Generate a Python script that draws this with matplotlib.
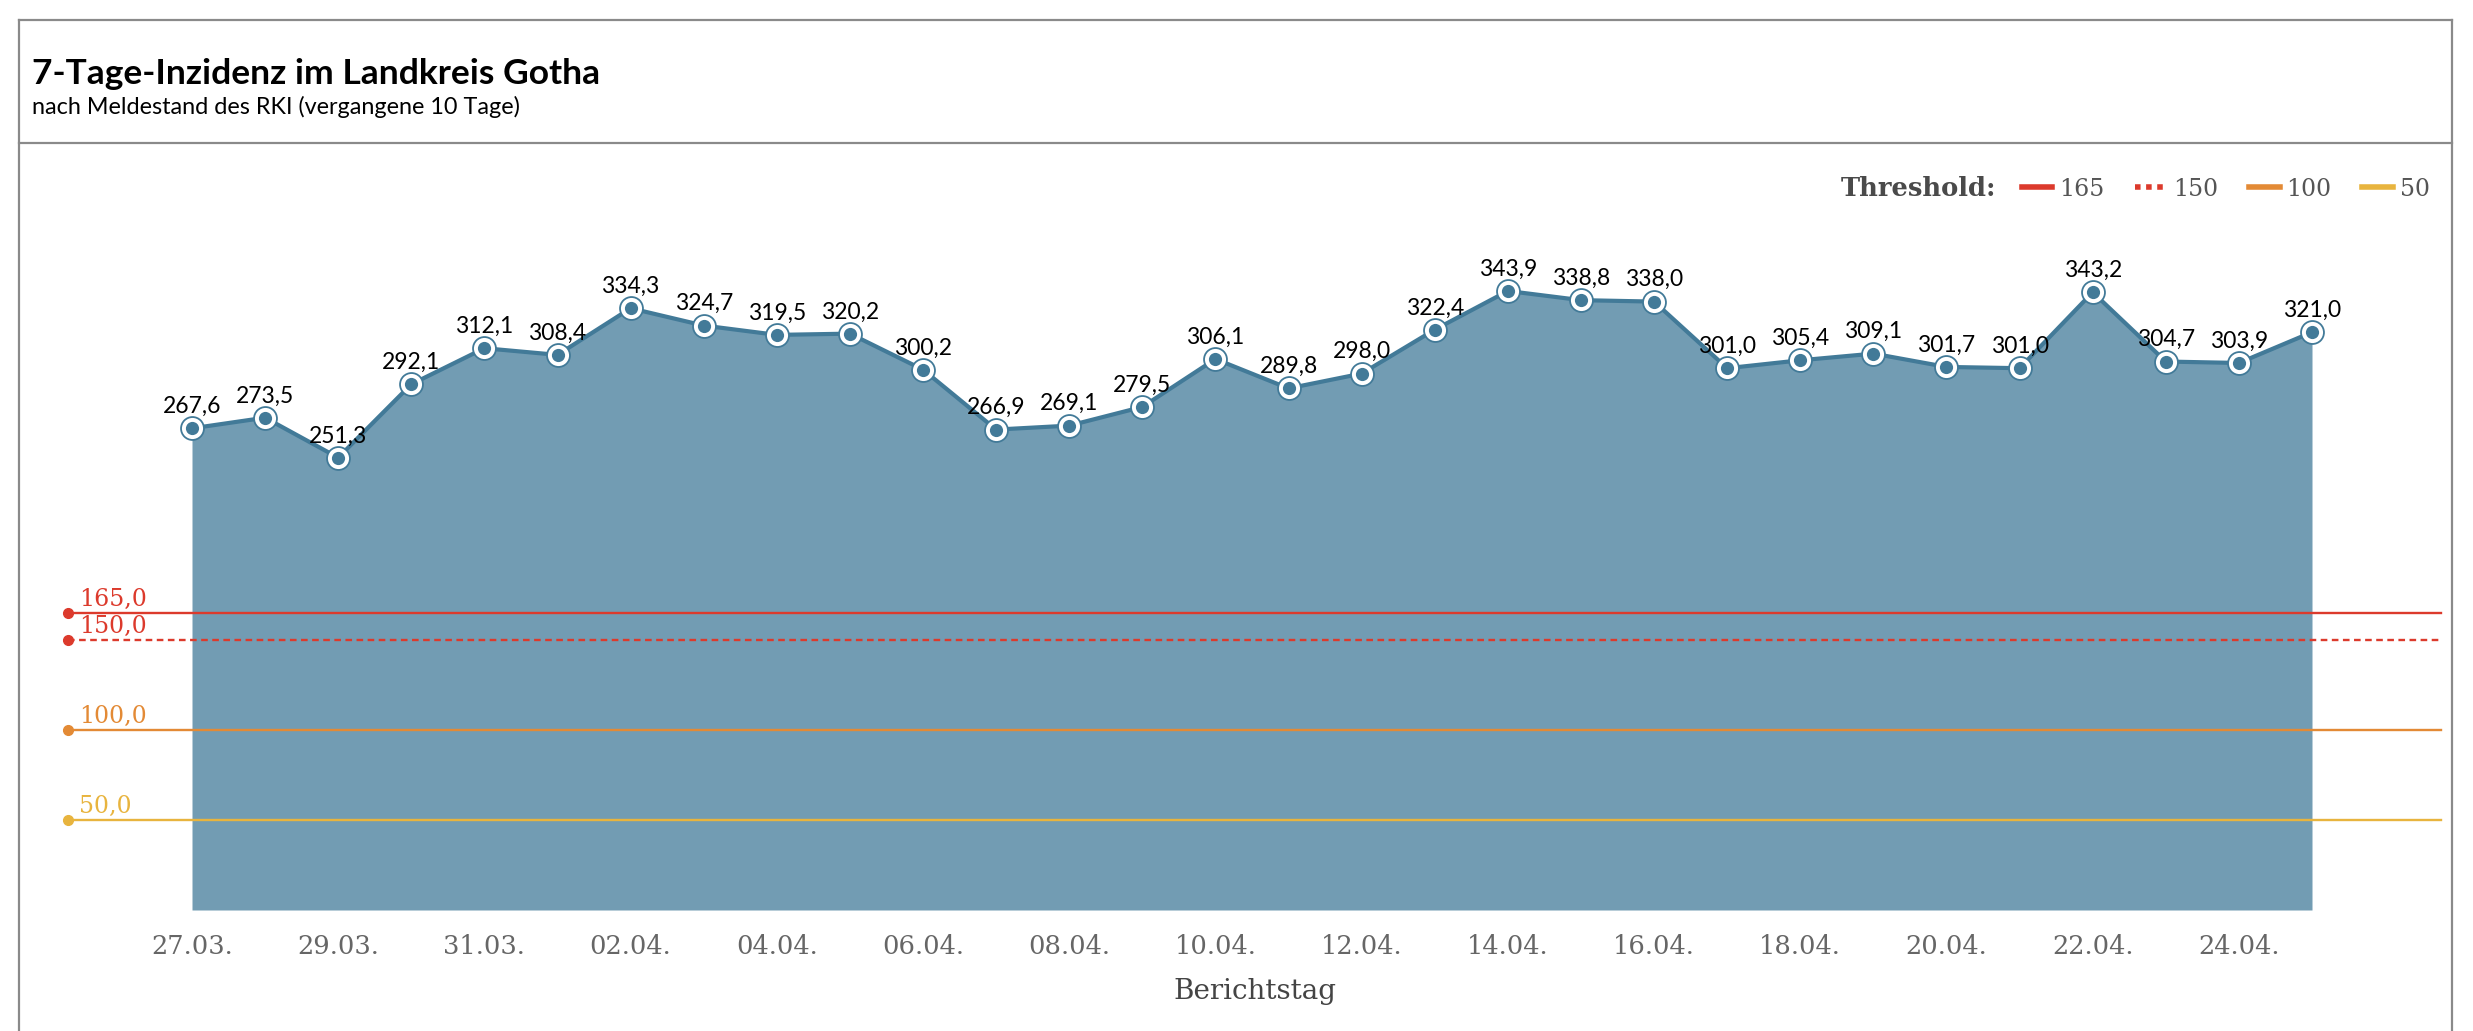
import matplotlib.pyplot as plt
from matplotlib.lines import Line2D

# 7-Tage-Inzidenz, Landkreis Gotha
dates = ["27.03.", "28.03.", "29.03.", "30.03.", "31.03.", "01.04.", "02.04.", "03.04.",
         "04.04.", "05.04.", "06.04.", "07.04.", "08.04.", "09.04.", "10.04.", "11.04.",
         "12.04.", "13.04.", "14.04.", "15.04.", "16.04.", "17.04.", "18.04.", "19.04.",
         "20.04.", "21.04.", "22.04.", "23.04.", "24.04.", "25.04."]
incidence = [267.6, 273.5, 251.3, 292.1, 312.1, 308.4, 334.3, 324.7, 319.5, 320.2,
             300.2, 266.9, 269.1, 279.5, 306.1, 289.8, 298.0, 322.4, 343.9, 338.8,
             338.0, 301.0, 305.4, 309.1, 301.7, 301.0, 343.2, 304.7, 303.9, 321.0]

thresholds = [165, 150, 100, 50]
threshold_colors = ["#dc3a2c", "#dc3a2c", "#e38a35", "#e8b43e"]
threshold_dashed = [False, True, False, False]

fill_color = "#729cb3"
line_color = "#427a98"
serif = ["DejaVu Serif"]
sans = ["Lato", "DejaVu Sans"]

fig = plt.figure(figsize=(24.73, 10.31), dpi=100)
W, H = 2473, 1031

# frame around the whole chart, like the html card
frame_kw = dict(color="#8a8a8a", linewidth=1.6, transform=fig.transFigure)
fig.add_artist(Line2D([19 / W, 19 / W], [0, 1 - 20 / H], **frame_kw))
fig.add_artist(Line2D([2452 / W, 2452 / W], [0, 1 - 20 / H], **frame_kw))
fig.add_artist(Line2D([19 / W, 2452 / W], [1 - 20 / H, 1 - 20 / H], **frame_kw))
fig.add_artist(Line2D([19 / W, 2452 / W], [1 - 143 / H, 1 - 143 / H], **frame_kw))

fig.text(32 / W, 1 - 84 / H, "7-Tage-Inzidenz im Landkreis Gotha", family=sans,
         fontsize=25.5, fontweight="bold", va="baseline", ha="left")
fig.text(32 / W, 1 - 114 / H, "nach Meldestand des RKI (vergangene 10 Tage)", family=sans,
         fontsize=16.8, va="baseline", ha="left")

ax = fig.add_axes([68 / W, 1 - 910 / H, (2441 - 68) / W, (910 - 160) / H])
x = list(range(len(dates)))
step = (2312 - 192) / (len(dates) - 1)
ax.set_xlim(-(192 - 68) / step, len(dates) - 1 + (2441 - 2312) / step)
ax.set_ylim(0, (910 - 160) / 1.8)

ax.fill_between(x, incidence, 0, color=fill_color, linewidth=0, zorder=1)
ax.plot(x, incidence, color=line_color, linewidth=3, zorder=3, solid_joinstyle="round")
ax.plot(x, incidence, linestyle="none", marker="o", markersize=16.5, markerfacecolor="white",
        markeredgecolor=line_color, markeredgewidth=1.3, zorder=4)
ax.plot(x, incidence, linestyle="none", marker="o", markersize=9.5, markerfacecolor=line_color,
        markeredgewidth=0, zorder=5)

for xi, v in zip(x, incidence):
    ax.annotate(f"{v:.1f}".replace(".", ","), (xi, v), xytext=(0, 11), textcoords="offset points",
                ha="center", va="baseline", fontsize=16.5, family=sans, color="black", zorder=6)

xmin, xmax = ax.get_xlim()
handles = []
for t, c, d in zip(thresholds, threshold_colors, threshold_dashed):
    ln, = ax.plot([xmin, xmax], [t, t], color=c, linewidth=1.7, marker="o", markersize=7,
                  markevery=[0], zorder=2, clip_on=False, label=str(t))
    if d:
        ln.set_dashes((2.8, 1.9))
    handles.append(Line2D([], [], color=c, linewidth=4, linestyle=(0, (1, 1)) if d else "-"))
    ax.annotate(f"{t:.1f}".replace(".", ","), (0.0046, t), xycoords=ax.get_yaxis_transform(),
                xytext=(0, 5), textcoords="offset points", ha="left", va="baseline",
                fontsize=17, family=serif, color=c)

ax.set_xticks(x[::2])
ax.set_xticklabels(dates[::2], family=serif, fontsize=18.5, color="#666666")
ax.tick_params(axis="x", length=0, pad=17)
ax.set_yticks([])
ax.set_xlabel("Berichtstag", family=serif, fontsize=20, color="#444444", labelpad=14)
for s in ax.spines.values():
    s.set_visible(False)

leg = fig.legend(handles, [str(t) for t in thresholds], loc="center right",
                 bbox_to_anchor=(2442 / W, 1 - 189 / H), ncol=4, frameon=False,
                 handlelength=1.3, handletextpad=0.3, columnspacing=1.3, borderpad=0,
                 prop={"family": serif, "size": 17})
for txt in leg.get_texts():
    txt.set_color("#555555")

fig.canvas.draw()
bb = leg.get_window_extent()
fig.text((bb.x0 - 25) / W, 1 - 189 / H, "Threshold:", family=serif, fontsize=18.5,
         fontweight="bold", color="#4a4a4a", ha="right", va="center")

fig.savefig("out.png", dpi=100)
